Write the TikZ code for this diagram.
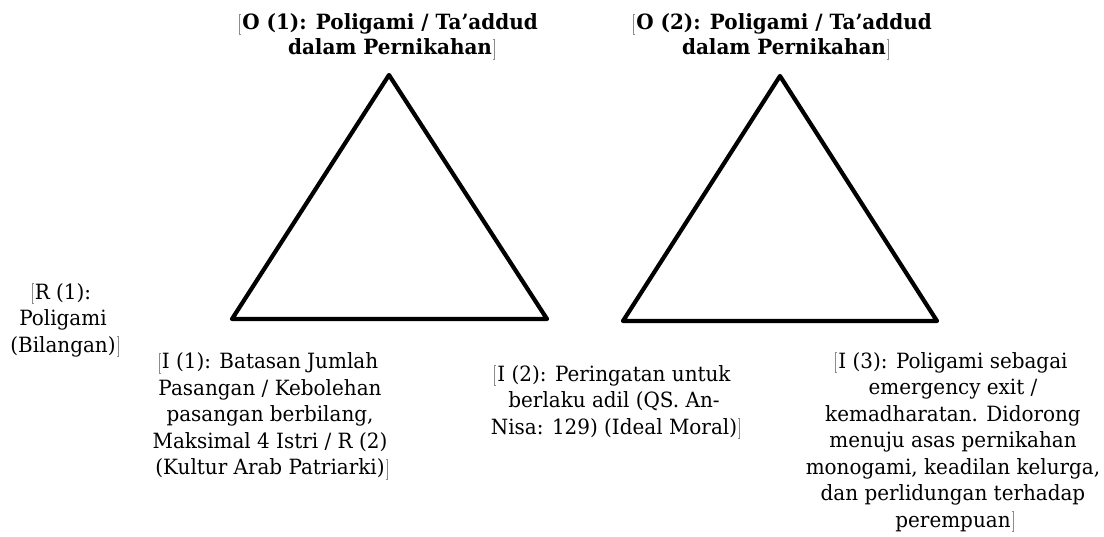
\documentclass[tikz,border=0pt]{standalone}
\usepackage{fontspec}
\setmainfont{DejaVu Serif}[FakeStretch=0.95]
\newcommand\lbr{\makebox[0pt][r]{\textcolor{black!45}{\rule[-5pt]{0.7pt}{21pt}\kern-0.7pt\rule[-5pt]{2pt}{0.6pt}\kern-2pt\rule[15.4pt]{2pt}{0.6pt}}\kern1pt}}
\newcommand\rbr{\makebox[0pt][l]{\kern1pt\textcolor{black!45}{\rule[-5pt]{2pt}{0.6pt}\kern-2pt\rule[15.4pt]{2pt}{0.6pt}\kern-0.7pt\rule[-5pt]{0.7pt}{21pt}}}}
\begin{document}
\begin{tikzpicture}[x=1pt,y=-1pt,
  lbl/.style={align=center,inner sep=0pt,font=\fontsize{21}{26.5}\selectfont},
  ttl/.style={align=center,inner sep=0pt,font=\fontsize{21}{25}\selectfont\bfseries},
  tri/.style={line width=4.2pt,line join=round}]
\useasboundingbox (0,0) rectangle (1104,536);
% triangle 1
\coordinate (a1) at (389,75);
\coordinate (b1) at (232,319);
\coordinate (c1) at (547,319);
\draw[tri] (a1) -- (b1) -- (c1) -- cycle;
% triangle 2
\coordinate (a2) at (780,76);
\coordinate (b2) at (623,321);
\coordinate (c2) at (937,321);
\draw[tri] (a2) -- (b2) -- (c2) -- cycle;
% titles
\node[ttl] (o1) at (390,36.5) {\lbr O (1): Poligami / Ta’addud\\dalam Pernikahan\rbr};
\node[ttl] (o2) at (784,36.5) {\lbr O (2): Poligami / Ta’addud\\dalam Pernikahan\rbr};
% labels
\node[lbl] (r1) at (63,320) {\lbr R (1):\\Poligami\\(Bilangan)\rbr};
\node[lbl] (i1) at (270,416) {\lbr I (1): Batasan Jumlah\\Pasangan / Kebolehan\\pasangan berbilang,\\Maksimal 4 Istri / R (2)\\(Kultur Arab Patriarki)\rbr};
\node[lbl] (i2) at (614,402) {\lbr I (2): Peringatan untuk\\berlaku adil (QS. An-\\Nisa: 129) (Ideal Moral)\rbr};
\node[lbl] (i3) at (953,442) {\lbr I (3): Poligami sebagai\\emergency exit /\\kemadharatan. Didorong\\menuju asas pernikahan\\monogami, keadilan kelurga,\\dan perlidungan terhadap\\perempuan\rbr};
\end{tikzpicture}
\end{document}
